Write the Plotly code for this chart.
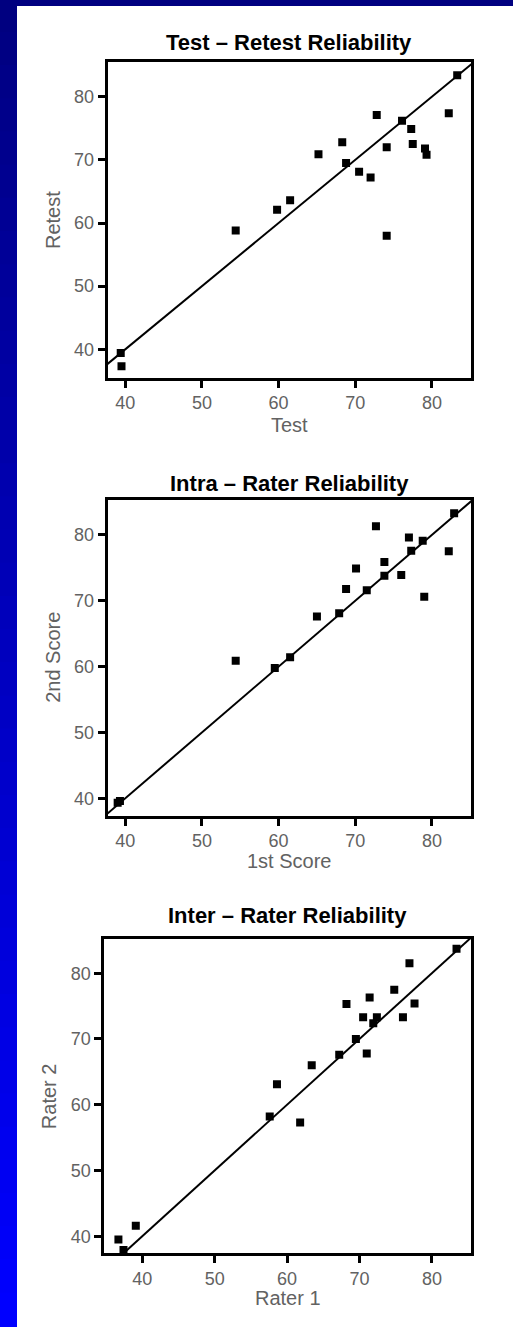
import plotly.graph_objects as go

# ---------------- data ----------------
titles = ["Test – Retest Reliability", "Intra – Rater Reliability", "Inter – Rater Reliability"]
x_titles = ["Test", "1st Score", "Rater 1"]
y_titles = ["Retest", "2nd Score", "Rater 2"]
tick_vals = [40, 50, 60, 70, 80]
tick_text = ["40", "50", "60", "70", "80"]

test_x = [83.3, 82.2, 72.8, 76.1, 77.3, 68.3, 74.1, 77.5, 79.1, 79.3, 65.2, 68.8, 70.5, 72.0,
          61.5, 59.8, 54.4, 74.1, 39.4, 39.5]
test_y = [83.4, 77.4, 77.1, 76.2, 74.9, 72.8, 72.0, 72.5, 71.8, 70.8, 70.9, 69.5, 68.1, 67.2,
          63.6, 62.1, 58.8, 58.0, 39.4, 37.3]

intra_x = [82.9, 72.7, 77.0, 78.8, 77.3, 82.2, 73.8, 70.1, 73.8, 76.0, 68.8, 71.5, 79.0, 65.0,
           67.9, 54.4, 61.5, 59.5, 39.3, 39.0]
intra_y = [83.3, 81.3, 79.6, 79.1, 77.6, 77.5, 75.9, 74.9, 73.8, 73.9, 71.8, 71.6, 70.6, 67.6,
           68.1, 60.9, 61.4, 59.8, 39.6, 39.3]

inter_x = [83.4, 76.9, 74.8, 71.4, 68.2, 77.6, 70.5, 72.4, 71.9, 76.0, 69.5, 67.2, 71.0, 63.4,
           58.6, 57.6, 61.8, 39.1, 36.7, 37.4]
inter_y = [83.7, 81.5, 77.5, 76.3, 75.3, 75.4, 73.3, 73.3, 72.4, 73.3, 70.0, 67.6, 67.8, 66.0,
           63.1, 58.2, 57.3, 41.6, 39.5, 37.9]

xs = [test_x, intra_x, inter_x]
ys = [test_y, intra_y, inter_y]

x_ranges = [[37.7, 85.1], [37.7, 85.1], [34.75, 85.4]]
y_ranges = [[35.5, 85.45], [37.35, 85.3], [37.4, 85.2]]

# ---------------- layout geometry (pixels) ----------------
W, H = 513, 1327
boxes = [  # left, right, top, bottom in px
    (107.7, 471.0, 62.3, 377.7),
    (107.7, 471.0, 500.0, 815.7),
    (104.3, 471.0, 939.0, 1253.3),
]
title_y = [42.7, 483.3, 915.0]
xtitle_y = [425.0, 860.7, 1298.0]
ytitle_x = [53.0, 53.0, 49.0]

FONT = "Liberation Sans, Arial, sans-serif"
GRAY = "#626262"

fig = go.Figure()
layout = dict(
    width=W, height=H, margin=dict(l=0, r=0, t=0, b=0),
    paper_bgcolor="white", plot_bgcolor="white", showlegend=False,
    font=dict(family=FONT),
)
annotations = []
shapes = []

for i in range(3):
    sfx = "" if i == 0 else str(i + 1)
    l, r, t, b = boxes[i]
    xd = [l / W, r / W]
    yd = [1 - b / H, 1 - t / H]
    axis_common = dict(
        showline=True, linewidth=3, linecolor="black", mirror=True,
        ticks="outside", ticklen=7, tickwidth=3, tickcolor="black",
        tickvals=tick_vals, ticktext=tick_text, showgrid=False, zeroline=False,
        tickfont=dict(family=FONT, size=18, color=GRAY),
    )
    layout["xaxis" + sfx] = dict(domain=xd, range=x_ranges[i], anchor="y" + sfx, **axis_common)
    layout["yaxis" + sfx] = dict(domain=yd, range=y_ranges[i], anchor="x" + sfx, **axis_common)

    lo = max(x_ranges[i][0], y_ranges[i][0]) - 2
    hi = min(x_ranges[i][1], y_ranges[i][1]) + 2
    fig.add_trace(go.Scatter(
        x=[lo, hi], y=[lo, hi], mode="lines",
        line=dict(color="black", width=2),
        xaxis="x" + sfx, yaxis="y" + sfx, hoverinfo="skip",
    ))
    fig.add_trace(go.Scatter(
        x=xs[i], y=ys[i], mode="markers",
        marker=dict(symbol="square", size=8, color="black"),
        xaxis="x" + sfx, yaxis="y" + sfx,
    ))

    annotations.append(dict(
        text=titles[i], xref="paper", yref="paper", x=(l + r) / 2 / W, y=1 - title_y[i] / H,
        xanchor="center", yanchor="middle", showarrow=False,
        font=dict(family=FONT, size=22, color="black", weight="bold"),
    ))
    annotations.append(dict(
        text=x_titles[i], xref="paper", yref="paper", x=(l + r) / 2 / W, y=1 - xtitle_y[i] / H,
        xanchor="center", yanchor="middle", showarrow=False,
        font=dict(family=FONT, size=20, color=GRAY),
    ))
    annotations.append(dict(
        text=y_titles[i], xref="paper", yref="paper", x=ytitle_x[i] / W, y=1 - (t + b) / 2 / H,
        xanchor="center", yanchor="middle", showarrow=False, textangle=-90,
        font=dict(family=FONT, size=20, color=GRAY),
    ))

# blue frame: top band and gradient left strip
n = 40
for k in range(n):
    f = k / (n - 1)
    c = "rgb(0,0,%d)" % round(128 + f * 127)
    shapes.append(dict(type="rect", xref="paper", yref="paper", layer="below",
                       x0=0, x1=17 / W, y0=1 - (k + 1) / n, y1=1 - k / n + 0.001,
                       fillcolor=c, line=dict(width=0)))
shapes.append(dict(type="rect", xref="paper", yref="paper", layer="below",
                   x0=0, x1=1, y0=1 - 6 / H, y1=1, fillcolor="rgb(0,0,128)", line=dict(width=0)))

layout["annotations"] = annotations
layout["shapes"] = shapes
fig.update_layout(**layout)
fig.write_html("out.html", config={"displayModeBar": False},
               post_script="document.body.style.margin='0';document.body.style.padding='0';")
